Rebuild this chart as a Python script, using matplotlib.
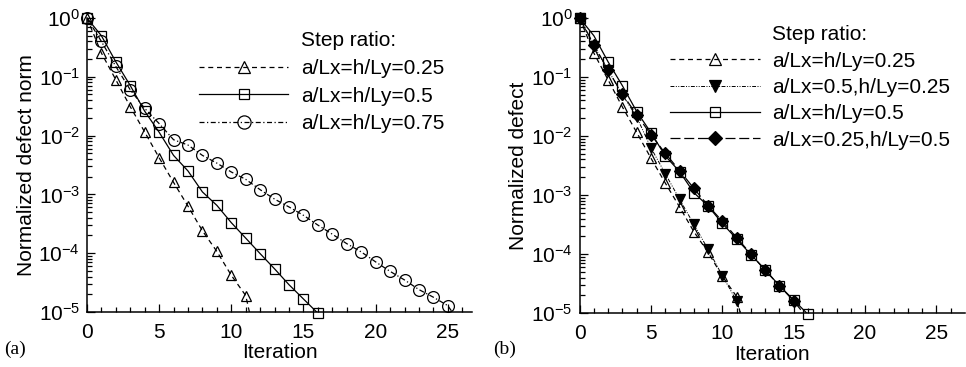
import numpy as np
import matplotlib.pyplot as plt
from matplotlib.lines import Line2D

plt.rcParams['font.family'] = ['Liberation Sans', 'DejaVu Sans']
plt.rcParams['mathtext.fontset'] = 'custom'
plt.rcParams['mathtext.rm'] = 'Liberation Sans'

# iteration histories
it_025 = np.arange(0, 13)
res_025 = [1.0, 0.254, 0.089, 0.031, 0.0115, 0.0042, 0.0016, 6.3e-4, 2.4e-4,
           1.07e-4, 4.2e-5, 1.9e-5, 1.5e-6]

it_050 = np.arange(0, 17)
res_050 = [1.0, 0.50, 0.18, 0.071, 0.026, 0.0114, 0.0046, 0.0025, 0.0011,
           6.5e-4, 3.3e-4, 1.8e-4, 9.8e-5, 5.4e-5, 2.9e-5, 1.66e-5, 9.5e-6]

it_075 = np.arange(0, 27)
res_075 = [1.0, 0.40, 0.15, 0.06, 0.029, 0.016, 0.0085, 0.0069, 0.0046,
           0.0034, 0.0024, 0.0018, 0.0012, 8.3e-4, 6.1e-4, 4.4e-4, 3.0e-4,
           2.1e-4, 1.45e-4, 1.05e-4, 7.1e-5, 4.9e-5, 3.5e-5, 2.4e-5, 1.78e-5,
           1.28e-5, 5.6e-6]

it_05_025 = np.arange(0, 13)
res_05_025 = [1.0, 0.34, 0.13, 0.05, 0.021, 0.0063, 0.0023, 8.5e-4, 3.2e-4,
              1.2e-4, 4.3e-5, 1.6e-5, 3.0e-6]

it_025_05 = np.arange(0, 17)
res_025_05 = [1.0, 0.35, 0.13, 0.051, 0.023, 0.0105, 0.0051, 0.0026, 0.0013,
              6.6e-4, 3.6e-4, 1.9e-4, 1.0e-4, 5.3e-5, 2.9e-5, 1.6e-5, 8.0e-6]

labels_a = ['a/Lx=h/Ly=0.25', 'a/Lx=h/Ly=0.5', 'a/Lx=h/Ly=0.75']
labels_b = ['a/Lx=h/Ly=0.25', 'a/Lx=0.5,h/Ly=0.25', 'a/Lx=h/Ly=0.5',
            'a/Lx=0.25,h/Ly=0.5']


def draw(ax, x, y, ls, marker, mfc, ms, lw=0.9):
    x = np.asarray(x)
    y = np.asarray(y)
    ax.plot(x, y, color='k', linestyle=ls, lw=lw)
    keep = y >= 9e-6
    ax.plot(x[keep], y[keep], linestyle='none', marker=marker, ms=ms,
            mfc=mfc, mec='k', mew=0.9, clip_on=False)
    return Line2D([], [], color='k', linestyle=ls, lw=lw, marker=marker,
                  ms=ms + 1, mfc=mfc, mec='k', mew=0.9)


def style(ax, xmax, ylabel):
    ax.set_yscale('log')
    ax.set_ylim(1e-5, 1)
    ax.set_xlim(0, xmax)
    ax.set_xticks([0, 5, 10, 15, 20, 25])
    ax.set_xticks(np.arange(0, 27), minor=True)
    ax.spines['top'].set_visible(False)
    ax.spines['right'].set_visible(False)
    for s in ('left', 'bottom'):
        ax.spines[s].set_linewidth(1.1)
    ax.tick_params(which='both', direction='in', labelsize=15, width=0.9)
    ax.tick_params(which='major', length=6)
    ax.tick_params(axis='x', which='major', pad=8)
    ax.tick_params(axis='y', which='major', pad=5)
    ax.tick_params(which='minor', length=3.5)
    ax.set_xlabel('Iteration', fontsize=15, labelpad=1)
    ax.set_ylabel(ylabel, fontsize=15, labelpad=2)


fig = plt.figure(figsize=(9.66, 3.67), dpi=100)
ax1 = fig.add_axes([0.090, 0.150, 0.399, 0.801])
ax2 = fig.add_axes([0.600, 0.147, 0.399, 0.804])

dash_s = (0, (4, 3))
dash_dot = (0, (4, 2, 1, 2))
dash_dd = (0, (4, 1.5, 1, 1.5, 1, 1.5))
dash_l = (0, (8, 3))

h1 = draw(ax1, it_025, res_025, dash_s, '^', 'none', 7.5)
h2 = draw(ax1, it_050, res_050, '-', 's', 'none', 6.5)
h3 = draw(ax1, it_075, res_075, dash_dot, 'o', 'none', 8.5)
style(ax1, 26.7, 'Normalized defect norm')

g1 = draw(ax2, it_025, res_025, dash_s, '^', 'none', 7.5)
g2 = draw(ax2, it_05_025, res_05_025, dash_dd, 'v', 'k', 7, lw=0.7)
g3 = draw(ax2, it_050, res_050, '-', 's', 'none', 6.5)
g4 = draw(ax2, it_025_05, res_025_05, dash_l, 'D', 'k', 6)
style(ax2, 27.0, 'Normalized defect')

blank = Line2D([], [], linestyle='none')
ax1.legend([blank, h1, h2, h3], ['Step ratio:'] + labels_a, loc='upper left',
           bbox_to_anchor=(0.29, 0.955), frameon=False, fontsize=15,
           handlelength=4.3, handletextpad=0.6, labelspacing=0.42,
           borderpad=0, borderaxespad=0)
ax2.legend([blank, g1, g2, g3, g4], ['Step ratio:'] + labels_b,
           loc='upper left', bbox_to_anchor=(0.235, 0.975), frameon=False,
           fontsize=15, handlelength=4.3, handletextpad=0.6,
           labelspacing=0.35, borderpad=0, borderaxespad=0)

fig.text(0.004, 0.035, '(a)', fontsize=14, family='Liberation Serif')
fig.text(0.510, 0.035, '(b)', fontsize=14, family='Liberation Serif')

fig.savefig('out.png', dpi=100)
